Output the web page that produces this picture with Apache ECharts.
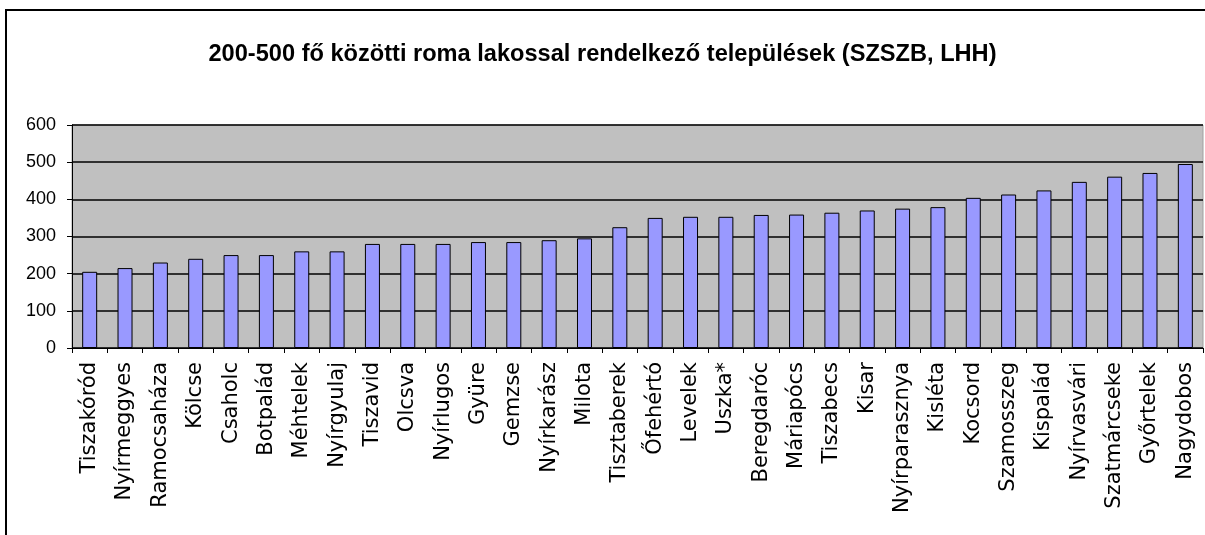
<!DOCTYPE html>
<html>
<head>
<meta charset="utf-8">
<script src="https://cdn.jsdelivr.net/npm/echarts@6/dist/echarts.min.js"></script>
<style>
  html, body { margin: 0; padding: 0; background: #fff; }
  #frame { position: absolute; left: 5px; top: 9px; width: 1205px; height: 540px;
           border-top: 2px solid #000; border-left: 2px solid #000; }
  #myChart { position: absolute; left: 0; top: 0; width: 1205px; height: 535px; }
</style>
</head>
<body>
<div id="frame"></div>
<div id="myChart"></div>
<script>
// települések
var telepulesek = ['Tiszakóród', 'Nyírmeggyes', 'Ramocsaháza', 'Kölcse', 'Csaholc', 'Botpalád',
  'Méhtelek', 'Nyírgyulaj', 'Tiszavid', 'Olcsva', 'Nyírlugos', 'Gyüre', 'Gemzse', 'Nyírkarász',
  'Milota', 'Tisztaberek', 'Őfehértó', 'Levelek', 'Uszka*', 'Beregdaróc', 'Máriapócs', 'Tiszabecs',
  'Kisar', 'Nyírparasznya', 'Kisléta', 'Kocsord', 'Szamosszeg', 'Kispalád', 'Nyírvasvári',
  'Szatmárcseke', 'Győrtelek', 'Nagydobos'];
// roma lakosok száma
var lakosok = [205, 215, 230, 240, 250, 250, 260, 260, 280, 280, 280, 285, 285, 290, 295, 325,
  350, 353, 353, 358, 359, 364, 370, 375, 379, 404, 413, 424, 447, 461, 471, 495];
var yTicks = [0, 100, 200, 300, 400, 500, 600];

var myChart = echarts.init(document.getElementById('myChart'));
myChart.setOption({
  animation: false,
  title: {
    text: '200-500 fő közötti roma lakossal rendelkező települések (SZSZB, LHH)',
    left: 'center',
    top: 37,
    textStyle: {
      fontFamily: 'Liberation Sans, Arial, sans-serif',
      fontWeight: 'bold',
      fontSize: 23.6,
      color: '#000'
    }
  },
  grid: {
    left: 72,
    right: 2,
    top: 125,
    bottom: 187,
    show: true,
    backgroundColor: '#c0c0c0',
    borderColor: '#a0a0a0',
    borderWidth: 1
  },
  xAxis: {
    type: 'category',
    data: telepulesek,
    axisLine: { lineStyle: { color: '#000', width: 1 } },
    axisTick: { show: true, length: 5, lineStyle: { color: '#000' } },
    axisLabel: {
      rotate: 90,
      interval: 0,
      margin: 14,
      fontFamily: 'DejaVu Sans, sans-serif',
      fontSize: 21,
      color: '#000'
    }
  },
  yAxis: {
    type: 'value',
    min: yTicks[0],
    max: yTicks[yTicks.length - 1],
    interval: 100,
    axisLine: { show: true, lineStyle: { color: '#000', width: 1 } },
    axisTick: { show: true, length: 5, lineStyle: { color: '#000' } },
    axisLabel: {
      margin: 16,
      fontFamily: 'Liberation Sans, Arial, sans-serif',
      fontSize: 18,
      color: '#000'
    },
    splitLine: { lineStyle: { color: '#000', width: 1.5 } }
  },
  series: [{
    name: 'lakosok',
    type: 'bar',
    data: lakosok,
    barWidth: 15,
    itemStyle: {
      color: '#9999ff',
      borderColor: '#000',
      borderWidth: 1
    }
  }]
});
</script>
</body>
</html>
